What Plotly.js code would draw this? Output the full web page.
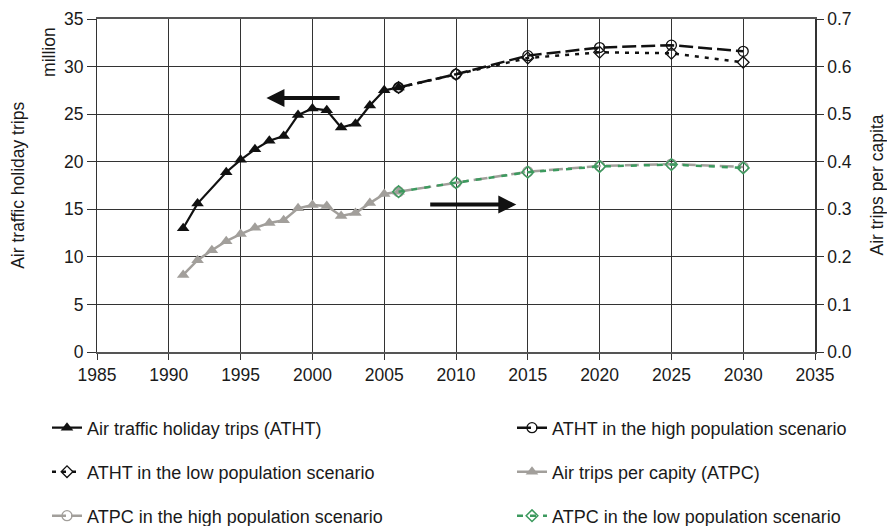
<!DOCTYPE html>
<html>
<head>
<meta charset="utf-8">
<script src="https://cdn.plot.ly/plotly-3.0.1.min.js"></script>
<style>html,body{margin:0;padding:0;background:#fff;}</style>
</head>
<body>
<div id="chart" style="width:887px;height:526px;"></div>
<script>
// Historical series
var histYears = [1991,1992,1993,1994,1995,1996,1997,1998,1999,2000,2001,2002,2003,2004,2005,2006];
var athtHist  = [13.0,15.6,null,18.9,20.2,21.3,22.2,22.7,24.9,25.6,25.4,23.6,24.0,25.9,27.5,27.8];
var atpcHist  = [0.162,0.193,0.214,0.233,0.248,0.261,0.271,0.277,0.302,0.309,0.307,0.286,0.292,0.313,0.332,0.337];
// Scenario series
var scenYears = [2006,2010,2015,2020,2025,2030];
var athtHigh  = [27.8,29.2,31.15,32.0,32.25,31.6];
var athtLow   = [27.8,29.2,30.9,31.5,31.4,30.45];
var atpcHigh  = [0.337,0.356,0.379,0.391,0.395,0.389];
var atpcLow   = [0.337,0.356,0.378,0.390,0.394,0.387];
// Labels
var seriesNames = [
  'Air traffic holiday trips (ATHT)',
  'ATHT in the high population scenario',
  'ATHT in the low population scenario',
  'Air trips per capity (ATPC)',
  'ATPC in the high population scenario',
  'ATPC in the low population scenario'
];
var leftTitle = 'Air traffic holiday trips';
var rightTitle = 'Air trips per capita';
var unitLabel = 'million';

var FONT = 'Liberation Sans, Arial, Helvetica, sans-serif';
var TXT = '#1a1a1a';
var GRAY = '#a29f9b';
var GREEN = '#3c9a5e';
var FS = 17.5;

var traces = [
  {x: histYears, y: athtHist, name: seriesNames[0], mode: 'lines+markers', connectgaps: true,
   line: {color: '#111', width: 2.2}, marker: {symbol: 'triangle-up', size: 11, color: '#111'},
   legend: 'legend'},
  {x: scenYears, y: athtHigh, name: seriesNames[1], mode: 'lines+markers',
   line: {color: '#111', width: 2.5, dash: '14px,5px'},
   marker: {symbol: 'circle', size: 10, color: 'rgba(255,255,255,0)', line: {color: '#111', width: 1.3}},
   legend: 'legend2'},
  {x: scenYears, y: athtLow, name: seriesNames[2], mode: 'lines+markers',
   line: {color: '#111', width: 2.5, dash: '4px,6px'},
   marker: {symbol: 'diamond-open', size: 9, color: '#111', line: {width: 1.3}},
   legend: 'legend3'},
  {x: histYears, y: atpcHist, name: seriesNames[3], mode: 'lines+markers', yaxis: 'y2',
   line: {color: GRAY, width: 2.5}, marker: {symbol: 'triangle-up', size: 11, color: GRAY},
   legend: 'legend4'},
  {x: scenYears, y: atpcHigh, name: seriesNames[4], mode: 'lines+markers', yaxis: 'y2',
   line: {color: GRAY, width: 2.5, dash: '14px,5px'},
   marker: {symbol: 'circle-open', size: 10, color: GRAY, line: {width: 1.3}},
   legend: 'legend5'},
  {x: scenYears, y: atpcLow, name: seriesNames[5], mode: 'lines+markers', yaxis: 'y2',
   line: {color: GREEN, width: 2.5, dash: '6px,7px'},
   marker: {symbol: 'diamond-open', size: 9, color: GREEN, line: {width: 1.5}},
   legend: 'legend6'}
];

function leg(xpx, ypx) {
  return {xref: 'container', yref: 'container', x: xpx/887, y: 1 - ypx/526,
          xanchor: 'left', yanchor: 'middle', bgcolor: 'rgba(0,0,0,0)',
          font: {family: FONT, size: 18, color: TXT}};
}

var layout = {
  width: 887, height: 526,
  margin: {l: 97, r: 72, t: 19, b: 174, autoexpand: false},
  paper_bgcolor: '#fff', plot_bgcolor: '#fff',
  font: {family: FONT, size: FS, color: TXT},
  showlegend: true,
  legend: leg(47, 428), legend2: leg(512, 428),
  legend3: leg(47, 472), legend4: leg(512, 472),
  legend5: leg(47, 516), legend6: leg(512, 516),
  xaxis: {range: [1985, 2035], tick0: 1985, dtick: 5, ticks: 'outside', ticklen: 6, tickcolor: '#333',
          showgrid: true, gridcolor: '#333', gridwidth: 1, zeroline: false, automargin: false,
          showline: true, linecolor: '#555', linewidth: 2, mirror: true,
          tickfont: {family: FONT, size: FS, color: TXT}},
  yaxis: {range: [0, 35], tick0: 0, dtick: 5, ticks: 'outside', ticklen: 9, tickcolor: '#333',
          showgrid: true, gridcolor: '#333', gridwidth: 1, zeroline: false, automargin: false,
          showline: true, linecolor: '#333', linewidth: 1,
          tickfont: {family: FONT, size: FS, color: TXT}},
  yaxis2: {range: [0, 0.7], tick0: 0, dtick: 0.1, tickformat: '.1f', overlaying: 'y', side: 'right',
           ticks: 'outside', ticklen: 7, tickcolor: '#333', showgrid: false, zeroline: false, automargin: false,
           showline: true, linecolor: '#333', linewidth: 1.5,
           tickfont: {family: FONT, size: FS, color: TXT}},
  annotations: [
    {xref: 'paper', yref: 'paper', x: -0.066, y: 0.9, text: unitLabel, textangle: -90,
     showarrow: false, xanchor: 'center', yanchor: 'middle', font: {family: FONT, size: FS, color: TXT}},
    {xref: 'paper', yref: 'paper', x: -0.111, y: 0.5, text: leftTitle, textangle: -90,
     showarrow: false, xanchor: 'center', yanchor: 'middle', font: {family: FONT, size: FS, color: TXT}},
    {xref: 'paper', yref: 'paper', x: 1.085, y: 0.5, text: rightTitle, textangle: -90,
     showarrow: false, xanchor: 'center', yanchor: 'middle', font: {family: FONT, size: FS, color: TXT}},
    {xref: 'x', yref: 'y', x: 1996.8, y: 26.7, axref: 'x', ayref: 'y', ax: 2002.0, ay: 26.7,
     text: '', showarrow: true, arrowhead: 2, arrowsize: 0.9, arrowwidth: 4, arrowcolor: '#111'},
    {xref: 'x', yref: 'y', x: 2014.2, y: 15.5, axref: 'x', ayref: 'y', ax: 2008.1, ay: 15.5,
     text: '', showarrow: true, arrowhead: 2, arrowsize: 0.9, arrowwidth: 4, arrowcolor: '#111'}
  ]
};

Plotly.newPlot('chart', traces, layout, {displayModeBar: false, responsive: false});
</script>
</body>
</html>
